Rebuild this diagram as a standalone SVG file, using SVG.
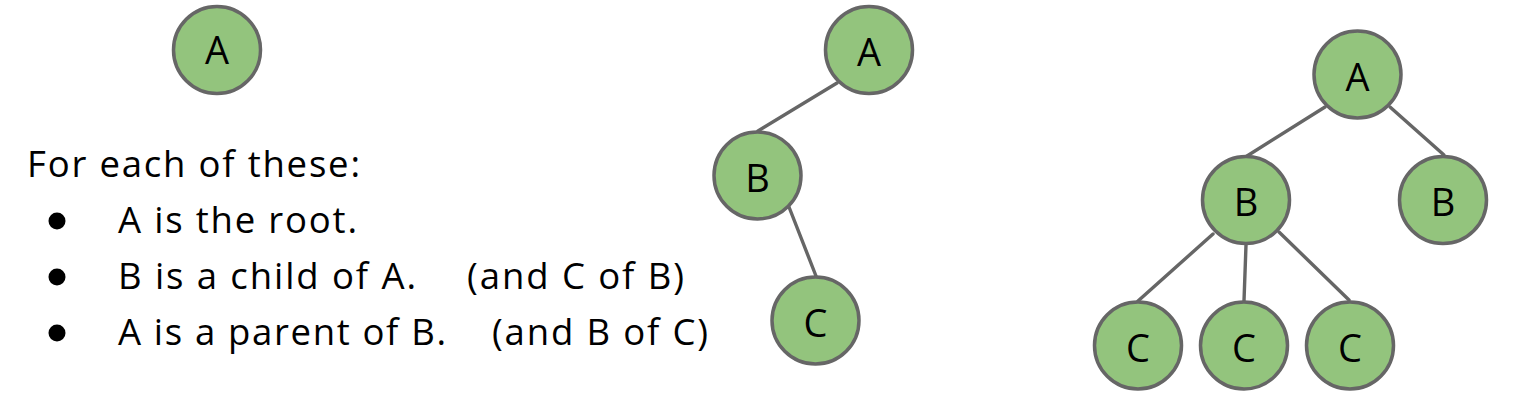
<svg xmlns="http://www.w3.org/2000/svg" width="1520" height="408" viewBox="0 0 1520 408">
<style>
.node circle{fill:#93c47d;stroke:#666666;stroke-width:3.5}
.node text{font-family:"Open Sans","Liberation Sans",sans-serif;font-size:38px;fill:#000;text-anchor:middle}
.edge{stroke:#666666;stroke-width:3.4;fill:none;stroke-linecap:round}
.body{font-family:"Open Sans","Liberation Sans",sans-serif;font-size:36.5px;fill:#000}
.bullet{fill:#000}
</style>
<rect width="1520" height="408" fill="#ffffff"/>
<g id="connectors">
<line class="edge" x1="837" y1="83" x2="758" y2="131"/>
<line class="edge" x1="789" y1="207" x2="816" y2="276"/>
<line class="edge" x1="1325" y1="107" x2="1247" y2="156"/>
<line class="edge" x1="1390" y1="107" x2="1444" y2="155"/>
<line class="edge" x1="1213" y1="234" x2="1138" y2="301"/>
<line class="edge" x1="1246" y1="245" x2="1244" y2="301"/>
<line class="edge" x1="1279" y1="232" x2="1349" y2="300"/>
</g>
<g id="single-A" class="node"><circle cx="217" cy="50" r="43.5"/><text x="217" y="64">A</text></g>
<g id="t2-A" class="node"><circle cx="869" cy="50" r="43.5"/><text x="869" y="66">A</text></g>
<g id="t2-B" class="node"><circle cx="757.5" cy="175.5" r="43.5"/><text x="757.5" y="191.5">B</text></g>
<g id="t2-C" class="node"><circle cx="815.5" cy="320.5" r="43.5"/><text x="815.5" y="336.5">C</text></g>
<g id="t3-A" class="node"><circle cx="1357.5" cy="74.5" r="43.5"/><text x="1357.5" y="90.5">A</text></g>
<g id="t3-B1" class="node"><circle cx="1246" cy="200" r="43.5"/><text x="1246" y="216">B</text></g>
<g id="t3-B2" class="node"><circle cx="1443" cy="200" r="43.5"/><text x="1443" y="216">B</text></g>
<g id="t3-C1" class="node"><circle cx="1138" cy="345.5" r="43.5"/><text x="1138" y="361.5">C</text></g>
<g id="t3-C2" class="node"><circle cx="1244" cy="345.5" r="43.5"/><text x="1244" y="361.5">C</text></g>
<g id="t3-C3" class="node"><circle cx="1350" cy="345.5" r="43.5"/><text x="1350" y="361.5">C</text></g>
<g id="caption">
<text class="body" x="27" y="177" textLength="333">For each of these:</text>
<circle class="bullet" cx="57" cy="221" r="8.5"/>
<text class="body" x="118" y="233" textLength="239">A is the root.</text>
<circle class="bullet" cx="57" cy="277" r="8.5"/>
<text class="body" x="118" y="289" textLength="298">B is a child of A.</text>
<text class="body" x="467" y="289" textLength="217">(and C of B)</text>
<circle class="bullet" cx="57" cy="333" r="8.5"/>
<text class="body" x="118" y="345" textLength="328">A is a parent of B.</text>
<text class="body" x="492" y="345" textLength="216">(and B of C)</text>
</g>
</svg>
